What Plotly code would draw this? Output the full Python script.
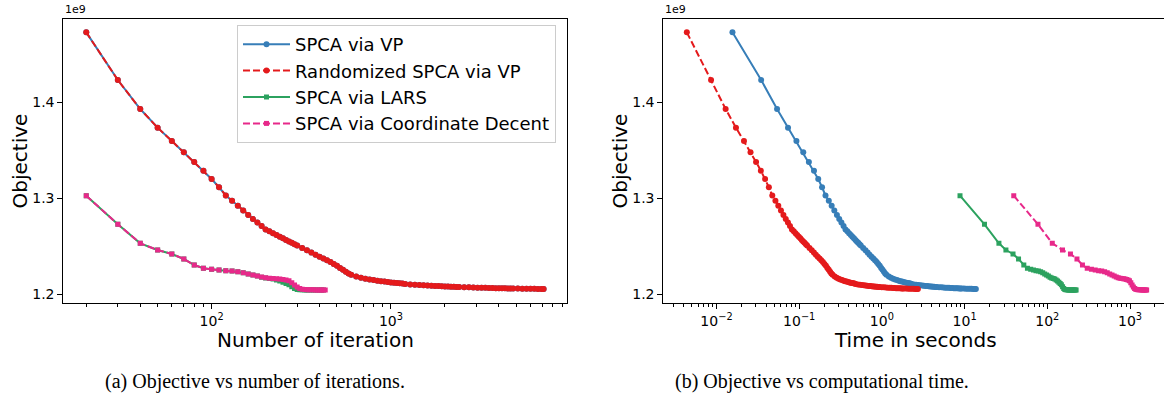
import plotly.graph_objects as go

# ---------------- data (objective in units of 1e9) ----------------
iters_vp = [20, 30, 40, 50, 60, 70, 80, 90, 100, 110, 120, 130, 140, 150, 160, 170, 180, 190, 200,
            210, 220, 230, 240, 250, 260, 270, 280, 290, 300,
            320, 340, 360, 380, 400, 420, 440, 460, 480, 500, 520, 540, 560, 580, 600,
            640, 680, 720, 760, 800, 840, 880, 920, 960, 1000, 1040, 1080, 1120, 1160, 1200,
            1280, 1360, 1440, 1520, 1600, 1680, 1760, 1840, 1920, 2000, 2080, 2160, 2240, 2320, 2400,
            2560, 2720, 2880, 3040, 3200, 3360, 3520, 3680, 3840, 4000, 4160, 4320, 4480, 4640, 4800,
            5100, 5400, 5700, 6000, 6300, 6600, 6900, 7100]

obj_vp = [1.4729, 1.4232, 1.3930, 1.3736, 1.3597, 1.3480, 1.3378, 1.3288, 1.3201, 1.3115, 1.3030,
          1.2975, 1.2923, 1.2872, 1.2826, 1.2784, 1.2748, 1.2712, 1.2676,
          1.2656, 1.2636, 1.2618, 1.2600, 1.2583, 1.2566, 1.2550, 1.2536, 1.2522, 1.2508,
          1.2483, 1.2458, 1.2434, 1.2411, 1.2392, 1.2372, 1.2354, 1.2335, 1.2315, 1.2296, 1.2275,
          1.2255, 1.2234, 1.2217, 1.2203,
          1.2185, 1.2172, 1.2162, 1.2155, 1.2148, 1.2142, 1.2137, 1.2132, 1.2128, 1.2124, 1.2120,
          1.2117, 1.2114, 1.2111, 1.2108,
          1.2103, 1.2099, 1.2096, 1.2093, 1.2091, 1.2089, 1.2087, 1.2085, 1.2083, 1.2082, 1.2080,
          1.2079, 1.2078, 1.2077, 1.2076,
          1.2074, 1.2072, 1.2071, 1.2069, 1.2068, 1.2067, 1.2066, 1.2065, 1.2064, 1.2063, 1.2062,
          1.2062, 1.2061, 1.2061, 1.2060,
          1.2059, 1.2058, 1.2058, 1.2057, 1.2057, 1.2056, 1.2056, 1.2055]

obj_rvp = list(obj_vp)

time_vp = [0.0156, 0.0347, 0.0540, 0.0733, 0.0926, 0.112, 0.131, 0.151, 0.170, 0.189, 0.208,
           0.228, 0.247, 0.266, 0.286, 0.305, 0.324, 0.344, 0.363,
           0.382, 0.401, 0.421, 0.440, 0.459, 0.479, 0.498, 0.517, 0.537, 0.556,
           0.594, 0.633, 0.672, 0.710, 0.749, 0.787, 0.826, 0.865, 0.903, 0.942, 0.980, 1.019,
           1.058, 1.096, 1.135,
           1.212, 1.289, 1.366, 1.444, 1.521, 1.598, 1.675, 1.752, 1.830, 1.907, 1.984, 2.061,
           2.138, 2.216, 2.293,
           2.447, 2.602, 2.756, 2.910, 3.065, 3.219, 3.374, 3.528, 3.682, 3.837, 3.991, 4.146,
           4.300, 4.454, 4.609,
           4.918, 5.227, 5.535, 5.844, 6.153, 6.462, 6.770, 7.079, 7.388, 7.697, 8.006, 8.314,
           8.623, 8.932, 9.241,
           9.820, 10.40, 10.98, 11.56, 12.14, 12.72, 13.29, 13.68]

time_rvp = [0.00438, 0.0086, 0.0129, 0.0172, 0.0215, 0.0258, 0.0301, 0.0344, 0.0387, 0.0430, 0.0473,
            0.0516, 0.0559, 0.0602, 0.0645, 0.0688, 0.0731, 0.0774, 0.0817,
            0.0860, 0.0903, 0.0946, 0.0989, 0.1032, 0.1075, 0.1118, 0.1161, 0.1204, 0.1247,
            0.1333, 0.1419, 0.1505, 0.1591, 0.1677, 0.1763, 0.1849, 0.1935, 0.2021, 0.2107, 0.2193,
            0.2279, 0.2365, 0.2451, 0.2537,
            0.2689, 0.2841, 0.2993, 0.3145, 0.3297, 0.3449, 0.3601, 0.3753, 0.3905, 0.4057, 0.4209,
            0.4361, 0.4513, 0.4665, 0.4817,
            0.5121, 0.5425, 0.5729, 0.6033, 0.6337, 0.6641, 0.6945, 0.7249, 0.7553, 0.7857, 0.8161,
            0.8465, 0.8769, 0.9073, 0.9377,
            0.9985, 1.0593, 1.1201, 1.1809, 1.2417, 1.3025, 1.3633, 1.4241, 1.4849, 1.5457, 1.6065,
            1.6673, 1.7281, 1.7889, 1.8497,
            1.9637, 2.0777, 2.1917, 2.3057, 2.4197, 2.5337, 2.6477, 2.7237]

iters_lars = [20, 30, 40, 50, 60, 70, 80, 90, 100, 110, 120, 130, 140, 150, 160, 170, 180, 190, 200,
              210, 220, 230, 240, 250, 260, 270, 280, 290, 300, 310, 320, 330, 340, 350, 360, 370,
              380, 390, 400, 410, 420]
obj_lars = [1.3027, 1.2729, 1.2531, 1.2461, 1.2420, 1.2368, 1.2305, 1.2271, 1.2260, 1.2253, 1.2246,
            1.2243, 1.2236, 1.2225, 1.2212, 1.2200, 1.2190, 1.2178, 1.2170,
            1.2165, 1.2158, 1.2149, 1.2138, 1.2125, 1.2112, 1.2098, 1.2078, 1.2060, 1.2050, 1.2047,
            1.2046, 1.2045, 1.2045, 1.2045, 1.2045, 1.2044, 1.2044, 1.2044, 1.2044, 1.2044, 1.2044]
time_lars = [8.8, 17.4, 26.0, 31.6, 38.5, 44.9, 52.0, 57.5, 63.0, 68.0, 73.0, 78.0, 83.0, 88.0, 93.0,
             98.0, 103, 108, 113, 118, 123, 128, 133, 138, 143, 148, 153, 158, 163, 168, 173, 178,
             183, 188, 193, 198, 203, 208, 213, 218, 223]

iters_cd = [20, 30, 40, 50, 60, 70, 80, 90, 100, 110, 120, 130, 140, 150, 160, 170, 180, 190, 200,
            210, 220, 230, 240, 250, 260, 270, 280, 290, 300, 310, 320, 330, 340, 350, 360, 370,
            380, 390, 400, 410, 420, 430]
obj_cd = [1.3027, 1.2729, 1.2531, 1.2461, 1.2420, 1.2368, 1.2305, 1.2271, 1.2260, 1.2253, 1.2246,
          1.2243, 1.2236, 1.2225, 1.2212, 1.2200, 1.2190, 1.2180, 1.2173,
          1.2168, 1.2164, 1.2161, 1.2158, 1.2155, 1.2150, 1.2140, 1.2120, 1.2097, 1.2075, 1.2060,
          1.2053, 1.2050, 1.2048, 1.2047, 1.2046, 1.2046, 1.2045, 1.2045, 1.2045, 1.2044, 1.2044,
          1.2044]
time_cd = [39.3, 77.1, 114.9, 152.7, 190.5, 228.3, 266.1, 303.9, 341.7, 379.5, 417.3, 455.1, 492.9,
           530.7, 568.5, 606.3, 644.1, 681.9, 719.7, 757.5, 795.3, 833.1, 870.9, 908.7, 946.5,
           984.3, 1022, 1060, 1098, 1136, 1173, 1211, 1249, 1287, 1325, 1363, 1400, 1438, 1476,
           1514, 1552, 1589]

names = ["SPCA via VP", "Randomized SPCA via VP", "SPCA via LARS", "SPCA via Coordinate Decent"]
colors = ["#377eb8", "#e41a1c", "#2ca25f", "#e7298a"]
y_ticks = [1.2, 1.3, 1.4]
y_ticktext = ["1.2", "1.3", "1.4"]
left_xticks = [100, 1000]
left_xticktext = ["10<sup>2</sup>", "10<sup>3</sup>"]
right_xticks = [0.01, 0.1, 1, 10, 100, 1000]
right_xticktext = ["10<sup>\u22122</sup>", "10<sup>\u22121</sup>", "10<sup>0</sup>",
                   "10<sup>1</sup>", "10<sup>2</sup>", "10<sup>3</sup>"]
xtitle_left = "Number of iteration"
xtitle_right = "Time in seconds"
ytitle = "Objective"
caption_a = "(a) Objective vs number of iterations."
caption_b = "(b) Objective vs computational time."

# ---------------- figure ----------------
W, H = 1164, 403
fig = go.Figure()

styles = [
    dict(dash="solid", symbol="circle", size=6),
    dict(dash="7px,3px", symbol="circle", size=6),
    dict(dash="solid", symbol="square", size=5),
    dict(dash="7px,3px", symbol="square", size=5),
]

left_x = [iters_vp, iters_vp, iters_lars, iters_cd]
left_y = [obj_vp, obj_rvp, obj_lars, obj_cd]
right_x = [time_vp, time_rvp, time_lars, time_cd]

for i in range(4):
    fig.add_trace(go.Scatter(
        x=left_x[i], y=left_y[i], name=names[i], mode="lines+markers",
        line=dict(color=colors[i], width=2, dash=styles[i]["dash"]),
        marker=dict(color=colors[i], size=styles[i]["size"], symbol=styles[i]["symbol"],
                    line=dict(width=0)),
        xaxis="x", yaxis="y", showlegend=True))
for i in range(4):
    fig.add_trace(go.Scatter(
        x=right_x[i], y=left_y[i], name=names[i], mode="lines+markers",
        line=dict(color=colors[i], width=2, dash=styles[i]["dash"]),
        marker=dict(color=colors[i], size=styles[i]["size"], symbol=styles[i]["symbol"],
                    line=dict(width=0)),
        xaxis="x2", yaxis="y2", showlegend=False))


def px_x(p):
    return p / W


def px_y(p):
    return 1 - p / H


tickfont = dict(family="DejaVu Sans", size=14, color="black")
common_axis = dict(showline=True, linecolor="black", linewidth=1, ticks="outside", ticklen=5,
                   tickwidth=1, tickcolor="black", showgrid=False, zeroline=False,
                   tickfont=tickfont)

ydom = [px_y(303.3), px_y(19)]

fig.update_layout(
    width=W, height=H, autosize=False,
    margin=dict(l=0, r=0, t=0, b=0),
    paper_bgcolor="white", plot_bgcolor="white",
    font=dict(family="DejaVu Sans", color="black"),
    xaxis=dict(common_axis, type="log", domain=[px_x(63.3), px_x(566.7)], range=[1.173, 3.98],
               tickmode="array", tickvals=left_xticks, ticktext=left_xticktext, mirror=True,
               anchor="y",
               minor=dict(ticks="outside", ticklen=2.5, tickwidth=1, tickcolor="black",
                          tickmode="array",
                          tickvals=[m * 10 ** k for k in (1, 2, 3) for m in range(2, 10)])),
    yaxis=dict(common_axis, domain=ydom, range=[1.1906, 1.4868], tickmode="array",
               tickvals=y_ticks, ticktext=y_ticktext, mirror=True, anchor="x"),
    xaxis2=dict(common_axis, type="log", domain=[px_x(663.3), 1.0], range=[-2.643, 3.411],
                tickmode="array", tickvals=right_xticks, ticktext=right_xticktext, mirror=True,
                anchor="y2",
                minor=dict(ticks="outside", ticklen=2.5, tickwidth=1, tickcolor="black",
                           tickmode="array",
                           tickvals=[m * 10 ** k for k in (-3, -2, -1, 0, 1, 2, 3) for m in range(2, 10)])),
    yaxis2=dict(common_axis, domain=ydom, range=[1.1906, 1.4868], tickmode="array",
                tickvals=y_ticks, ticktext=y_ticktext, mirror=False, anchor="x2"),
    legend=dict(x=px_x(237), y=px_y(25), xanchor="left", yanchor="top",
                bordercolor="#cccccc", borderwidth=1, bgcolor="rgba(255,255,255,0.8)",
                font=dict(family="DejaVu Sans", size=18, color="black"), itemwidth=47),
    showlegend=True,
)

ann = []
# axis titles
ann.append(dict(text=xtitle_left, x=px_x(315), y=px_y(326), xref="paper", yref="paper",
                xanchor="center", yanchor="top", showarrow=False,
                font=dict(family="DejaVu Sans", size=20, color="black")))
ann.append(dict(text=xtitle_right, x=px_x(915), y=px_y(326), xref="paper", yref="paper",
                xanchor="center", yanchor="top", showarrow=False,
                font=dict(family="DejaVu Sans", size=20, color="black")))
for cx in (19.5, 619.5):
    ann.append(dict(text=ytitle, x=px_x(cx), y=px_y(161), xref="paper", yref="paper",
                    xanchor="center", yanchor="middle", textangle=-90, showarrow=False,
                    font=dict(family="DejaVu Sans", size=20, color="black")))
# offset text
for lx in (63, 663):
    ann.append(dict(text="1e9", x=px_x(lx), y=px_y(18), xref="paper", yref="paper",
                    xanchor="left", yanchor="bottom", showarrow=False,
                    font=dict(family="DejaVu Sans", size=11, color="black")))
# captions
ann.append(dict(text=caption_a, x=px_x(255), y=px_y(381), xref="paper", yref="paper",
                xanchor="center", yanchor="middle", showarrow=False,
                font=dict(family="Liberation Serif", size=20, color="black")))
ann.append(dict(text=caption_b, x=px_x(822), y=px_y(381), xref="paper", yref="paper",
                xanchor="center", yanchor="middle", showarrow=False,
                font=dict(family="Liberation Serif", size=20, color="black")))
fig.update_layout(annotations=ann)

fig.write_html("out.html", config={"displayModeBar": False},
               post_script="document.body.style.margin='0px';document.body.style.padding='0px';")
